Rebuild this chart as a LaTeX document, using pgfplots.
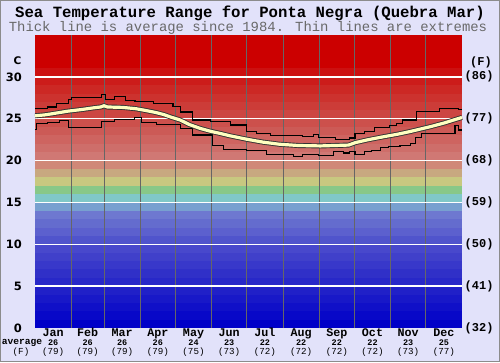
\documentclass[border=0pt]{standalone}
\usepackage{pgfplots}
\pgfplotsset{compat=1.18}
\usepackage{pgfplotstable}
\usepackage{fontspec}
\setmainfont{Liberation Mono}
\newfontfamily\monof{Liberation Mono}
\newfontfamily\sansf{DejaVu Sans}

\definecolor{bgc}{RGB}{226,226,250}
\definecolor{avgy}{RGB}{255,255,192}
\definecolor{subg}{RGB}{105,105,105}
\definecolor{band0}{RGB}{0,0,200}
\definecolor{band1}{RGB}{8,8,200}
\definecolor{band2}{RGB}{16,16,200}
\definecolor{band3}{RGB}{24,24,200}
\definecolor{band4}{RGB}{32,32,200}
\definecolor{band5}{RGB}{40,40,200}
\definecolor{band6}{RGB}{48,48,200}
\definecolor{band7}{RGB}{56,56,202}
\definecolor{band8}{RGB}{64,64,202}
\definecolor{band9}{RGB}{72,72,204}
\definecolor{band10}{RGB}{80,84,204}
\definecolor{band11}{RGB}{92,96,206}
\definecolor{band12}{RGB}{100,108,206}
\definecolor{band13}{RGB}{110,120,208}
\definecolor{band14}{RGB}{120,160,208}
\definecolor{band15}{RGB}{128,200,200}
\definecolor{band16}{RGB}{136,200,136}
\definecolor{band17}{RGB}{200,200,128}
\definecolor{band18}{RGB}{200,168,128}
\definecolor{band19}{RGB}{208,136,120}
\definecolor{band20}{RGB}{208,120,116}
\definecolor{band21}{RGB}{206,110,106}
\definecolor{band22}{RGB}{206,100,96}
\definecolor{band23}{RGB}{204,90,86}
\definecolor{band24}{RGB}{204,80,76}
\definecolor{band25}{RGB}{204,70,66}
\definecolor{band26}{RGB}{204,60,56}
\definecolor{band27}{RGB}{204,50,46}
\definecolor{band28}{RGB}{204,40,36}
\definecolor{band29}{RGB}{204,28,26}
\definecolor{band30}{RGB}{204,16,16}
\definecolor{band31}{RGB}{204,0,0}
\definecolor{band32}{RGB}{204,0,0}
\definecolor{band33}{RGB}{204,0,0}
\definecolor{band34}{RGB}{204,0,0}

\pgfplotstableread{
day avg
0 25.35
8 25.45
15 25.6
28 25.9
40 26.1
50 26.3
56 26.4
59 26.55
62 26.4
75 26.35
86 26.2
94 26.0
103 25.75
110 25.5
116 25.2
124 24.85
132 24.3
141 23.85
150 23.5
158 23.25
167 22.95
181 22.55
195 22.2
209 21.95
225 21.8
244 21.75
268 21.85
274 22.15
285 22.5
298 22.85
310 23.15
320 23.45
338 24.05
350 24.5
358 24.85
365 25.15
}\avgtable

\begin{document}
\begin{tikzpicture}
\fill[bgc] (0pt,0pt) rectangle (500pt,362pt);
\draw[black!45, line width=1pt] (0.5pt,0.5pt) rectangle (499.5pt,361.5pt);
\useasboundingbox (0pt,0pt) rectangle (500pt,362pt);

% title
\node[anchor=base, font=\monof\bfseries\fontsize{15.65}{16}\selectfont, inner sep=0pt] at (250pt,344.7pt) {Sea Temperature Range for Ponta Negra (Quebra Mar)};
\node[anchor=base, font=\monof\fontsize{13.9}{14}\selectfont, text=subg, inner sep=0pt] at (248pt,330.3pt) {Thick line is average since 1984. Thin lines are extremes};

% corner labels
\node[font=\sansf\bfseries\fontsize{10.5}{11}\selectfont, inner sep=0pt] at (17.5pt,301pt) {C};
\node[font=\monof\bfseries\fontsize{12}{12}\selectfont, inner sep=0pt] at (481pt,300pt) {(F)};
\node[anchor=base west, font=\monof\bfseries\fontsize{9.6}{10}\selectfont, inner sep=0pt] at (1.7pt,17.6pt) {average};
\node[anchor=base, font=\monof\fontsize{9.2}{10}\selectfont, inner sep=0pt] at (21pt,8pt) {(F)};

% background bands
\begin{axis}[
  at={(35pt,34pt)}, anchor=south west,
  scale only axis, width=427pt, height=293pt,
  xmin=0, xmax=365, ymin=0, ymax=35,
  hide axis, clip=true]
\pgfplotsinvokeforeach{0,...,34}{
  \addplot[draw=none, fill=band#1] coordinates {(0,#1) (365,#1) (365,35) (0,35)};
}
\end{axis}

% data axis
\begin{axis}[
  at={(35pt,34pt)}, anchor=south west,
  scale only axis, width=427pt, height=293pt,
  xmin=0, xmax=365, ymin=0, ymax=35,
  axis line style={draw=none},
  major tick length=0pt, minor tick length=0pt,
  xtick={15.5,45,74.5,105,135.5,166,196.5,227.5,258,288.5,319,349.5},
  xticklabels={Jan,Feb,Mar,Apr,May,Jun,Jul,Aug,Sep,Oct,Nov,Dec},
  xticklabel style={font=\monof\bfseries\fontsize{11.7}{12}\selectfont, anchor=base, inner sep=0pt, yshift=-8.8pt},
  minor xtick={31,59,90,120,151,181,212,243,273,304,334},
  xminorgrids, minor x grid style={black!60, line width=0.9pt},
  ytick={5,10,15,20,25,30},
  yticklabels={5,10,15,20,25,30},
  extra y ticks={0}, extra y tick labels={0},
  extra y tick style={grid=none},
  ymajorgrids, major y grid style={white, line width=1.3pt},
  yticklabel style={font=\sansf\bfseries\fontsize{11.5}{12}\selectfont, anchor=east, inner sep=0pt, xshift=-13pt},
  clip=false]

% max extremes
\addplot[const plot, black, line width=1.1pt] coordinates {
(0,26.2) (11,26.4) (18.5,26.8) (28.5,27.3) (31,27.5) (57,27.9) (60,27.3) (68,27.6) (77,27.15) (85.5,27.05) (101,26.85) (118,26.45) (124,25.8) (135,24.85) (150,24.65) (167,24.25) (181,23.5) (189.5,23.25) (201,22.95) (215,23.0) (229,22.9) (238,23.1) (242,22.8) (257,22.5) (269,22.7) (273.5,23.2) (282,23.45) (290,23.9) (303,24.15) (309,24.4) (314,24.85) (326,25.85) (346,26.25) (362,26.05) (365,26.05)};

% min extremes
\addplot[const plot, black, line width=1.1pt] coordinates {
(0,23.7) (1.5,24.4) (11,24.6) (21,24.8) (28.5,23.9) (57,24.7) (68,24.9) (85,25.1) (91,24.6) (104,24.35) (124,23.85) (135,23.05) (152,21.85) (161,21.35) (181,21.25) (198,20.7) (221,20.5) (229,20.75) (242,20.65) (255,21.05) (263.5,20.9) (269,21.05) (273.5,20.7) (282,21.05) (288,21.25) (295,21.55) (302,21.65) (312,21.85) (320.6,22.05) (325,22.75) (330,23.2) (359,24.2) (362,23.65) (365,23.65)};

% average
\addplot[black!80, line width=5pt, line join=round] table[x=day, y=avg] {\avgtable};
\addplot[avgy, line width=3.2pt, line join=round] table[x=day, y=avg] {\avgtable};

% right-hand Fahrenheit labels
\node[anchor=west, font=\monof\bfseries\fontsize{12}{12}\selectfont, inner sep=0pt, xshift=2.5pt] at (axis cs:365,0) {(32)};
\node[anchor=west, font=\monof\bfseries\fontsize{12}{12}\selectfont, inner sep=0pt, xshift=2.5pt] at (axis cs:365,5) {(41)};
\node[anchor=west, font=\monof\bfseries\fontsize{12}{12}\selectfont, inner sep=0pt, xshift=2.5pt] at (axis cs:365,10) {(50)};
\node[anchor=west, font=\monof\bfseries\fontsize{12}{12}\selectfont, inner sep=0pt, xshift=2.5pt] at (axis cs:365,15) {(59)};
\node[anchor=west, font=\monof\bfseries\fontsize{12}{12}\selectfont, inner sep=0pt, xshift=2.5pt] at (axis cs:365,20) {(68)};
\node[anchor=west, font=\monof\bfseries\fontsize{12}{12}\selectfont, inner sep=0pt, xshift=2.5pt] at (axis cs:365,25) {(77)};
\node[anchor=west, font=\monof\bfseries\fontsize{12}{12}\selectfont, inner sep=0pt, xshift=2.5pt] at (axis cs:365,30) {(86)};

% monthly averages (C)
\node[anchor=base, font=\monof\bfseries\fontsize{8.5}{9}\selectfont, inner sep=0pt, yshift=-17pt] at (axis cs:15.5,0) {26};
\node[anchor=base, font=\monof\bfseries\fontsize{8.5}{9}\selectfont, inner sep=0pt, yshift=-17pt] at (axis cs:45,0) {26};
\node[anchor=base, font=\monof\bfseries\fontsize{8.5}{9}\selectfont, inner sep=0pt, yshift=-17pt] at (axis cs:74.5,0) {26};
\node[anchor=base, font=\monof\bfseries\fontsize{8.5}{9}\selectfont, inner sep=0pt, yshift=-17pt] at (axis cs:105,0) {26};
\node[anchor=base, font=\monof\bfseries\fontsize{8.5}{9}\selectfont, inner sep=0pt, yshift=-17pt] at (axis cs:135.5,0) {24};
\node[anchor=base, font=\monof\bfseries\fontsize{8.5}{9}\selectfont, inner sep=0pt, yshift=-17pt] at (axis cs:166,0) {23};
\node[anchor=base, font=\monof\bfseries\fontsize{8.5}{9}\selectfont, inner sep=0pt, yshift=-17pt] at (axis cs:196.5,0) {22};
\node[anchor=base, font=\monof\bfseries\fontsize{8.5}{9}\selectfont, inner sep=0pt, yshift=-17pt] at (axis cs:227.5,0) {22};
\node[anchor=base, font=\monof\bfseries\fontsize{8.5}{9}\selectfont, inner sep=0pt, yshift=-17pt] at (axis cs:258,0) {22};
\node[anchor=base, font=\monof\bfseries\fontsize{8.5}{9}\selectfont, inner sep=0pt, yshift=-17pt] at (axis cs:288.5,0) {22};
\node[anchor=base, font=\monof\bfseries\fontsize{8.5}{9}\selectfont, inner sep=0pt, yshift=-17pt] at (axis cs:319,0) {23};
\node[anchor=base, font=\monof\bfseries\fontsize{8.5}{9}\selectfont, inner sep=0pt, yshift=-17pt] at (axis cs:349.5,0) {25};
% monthly averages (F)
\node[anchor=base, font=\monof\fontsize{9.2}{10}\selectfont, inner sep=0pt, yshift=-26pt] at (axis cs:15.5,0) {(79)};
\node[anchor=base, font=\monof\fontsize{9.2}{10}\selectfont, inner sep=0pt, yshift=-26pt] at (axis cs:45,0) {(79)};
\node[anchor=base, font=\monof\fontsize{9.2}{10}\selectfont, inner sep=0pt, yshift=-26pt] at (axis cs:74.5,0) {(79)};
\node[anchor=base, font=\monof\fontsize{9.2}{10}\selectfont, inner sep=0pt, yshift=-26pt] at (axis cs:105,0) {(79)};
\node[anchor=base, font=\monof\fontsize{9.2}{10}\selectfont, inner sep=0pt, yshift=-26pt] at (axis cs:135.5,0) {(75)};
\node[anchor=base, font=\monof\fontsize{9.2}{10}\selectfont, inner sep=0pt, yshift=-26pt] at (axis cs:166,0) {(73)};
\node[anchor=base, font=\monof\fontsize{9.2}{10}\selectfont, inner sep=0pt, yshift=-26pt] at (axis cs:196.5,0) {(72)};
\node[anchor=base, font=\monof\fontsize{9.2}{10}\selectfont, inner sep=0pt, yshift=-26pt] at (axis cs:227.5,0) {(72)};
\node[anchor=base, font=\monof\fontsize{9.2}{10}\selectfont, inner sep=0pt, yshift=-26pt] at (axis cs:258,0) {(72)};
\node[anchor=base, font=\monof\fontsize{9.2}{10}\selectfont, inner sep=0pt, yshift=-26pt] at (axis cs:288.5,0) {(72)};
\node[anchor=base, font=\monof\fontsize{9.2}{10}\selectfont, inner sep=0pt, yshift=-26pt] at (axis cs:319,0) {(73)};
\node[anchor=base, font=\monof\fontsize{9.2}{10}\selectfont, inner sep=0pt, yshift=-26pt] at (axis cs:349.5,0) {(77)};
\end{axis}
\end{tikzpicture}
\end{document}
